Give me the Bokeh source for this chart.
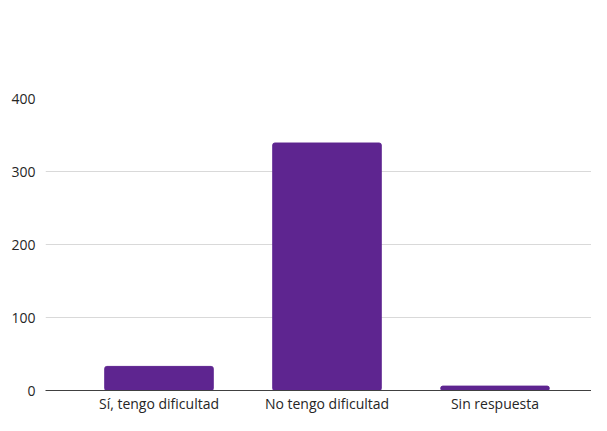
from bokeh.plotting import figure
from bokeh.models import Range1d, FixedTicker, Label
from bokeh.embed import file_html
from bokeh.resources import INLINE

categories = ["Sí, tengo dificultad", "No tengo dificultad", "Sin respuesta"]
counts = [33, 339, 6]
y_ticks = [0, 100, 200, 300, 400]
title_lines = ["¿Tiene alguna dificultad y/o necesidad en los",
               "siguientes aspectos? Problemas psicoafectivos"]

positions = list(range(len(categories)))

p = figure(
    x_range=Range1d(-0.6756, 2.5744),
    y_range=Range1d(0, 400),
    width=591, height=415,
    output_backend="svg", toolbar_location=None,
    min_border_left=45, min_border_right=0, min_border_top=98, min_border_bottom=0,
)

p.vbar(x=positions, top=counts, width=0.646, color="#5E2590", border_radius=2)

# two centred title lines, placed above the frame
title_pos = [(0.870, 482.9), (0.892, 447.4)]
for line, (tx, ty) in zip(title_lines, title_pos):
    p.add_layout(Label(x=tx, y=ty, text=line, text_align="center",
                       text_baseline="alphabetic", text_font="Open Sans",
                       text_font_size="21.5px", text_font_style="bold",
                       text_color="#757575"))

p.outline_line_color = None
p.background_fill_color = "white"
p.border_fill_color = "white"

p.xgrid.grid_line_color = None
p.ygrid.grid_line_color = "#D9D9D9"
p.ygrid.grid_line_width = 1

for ax in (p.xaxis, p.yaxis):
    ax.major_tick_line_color = None
    ax.minor_tick_line_color = None
    ax.major_tick_out = 0
    ax.major_tick_in = 0
    ax.minor_tick_out = 0
    ax.major_label_text_font = "Open Sans"
    ax.major_label_text_font_size = "14px"
    ax.major_label_text_color = "#262626"

p.yaxis.ticker = FixedTicker(ticks=y_ticks)
p.yaxis.axis_line_color = None
p.yaxis.major_label_standoff = 10

p.xaxis.ticker = FixedTicker(ticks=positions)
p.xaxis.major_label_overrides = {i: c for i, c in zip(positions, categories)}
p.xaxis.axis_line_color = "#404040"
p.xaxis.axis_line_width = 1
p.xaxis.major_label_standoff = 3
p.xaxis.major_label_text_line_height = 0.8

open("out.html", "w").write(file_html(p, INLINE))
